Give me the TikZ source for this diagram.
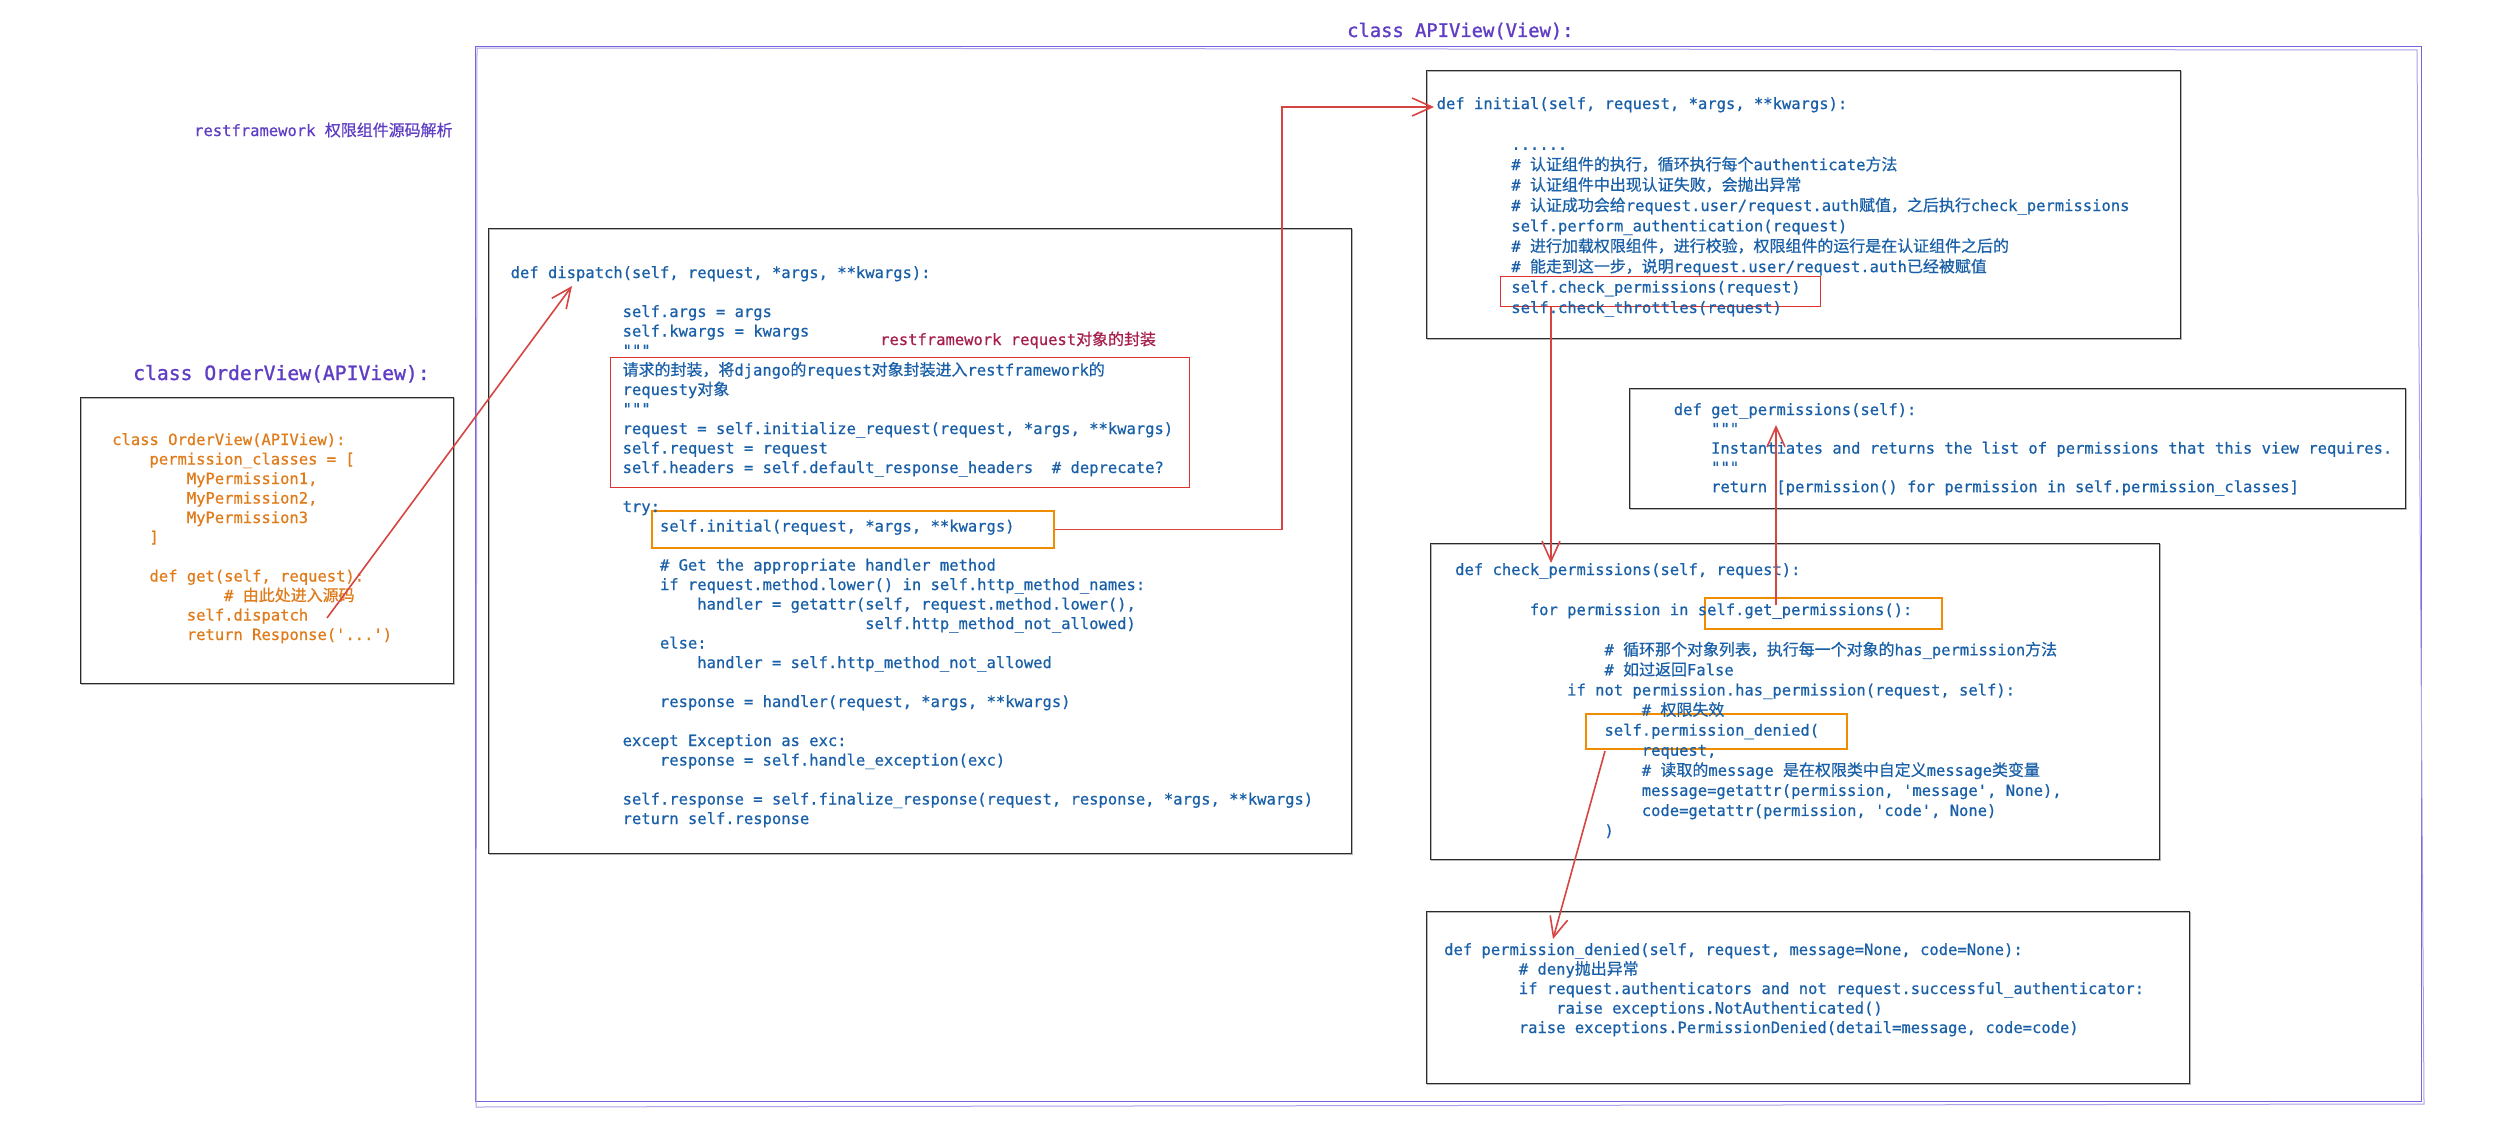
\documentclass[tikz,border=0pt]{standalone}
\usepackage{fontspec}
\newfontfamily\cmono{DejaVu Sans Mono}[FakeBold=0.6]
\newfontfamily\tmono{DejaVu Sans Mono}[FakeBold=1.2]
\newfontfamily\cjk{Noto Sans CJK SC}[Scale=1.03, FakeBold=0.6]
\usetikzlibrary{arrows.meta}
\definecolor{codeblue}{HTML}{1A60A8}
\definecolor{codeorange}{HTML}{E07B1A}
\definecolor{titlepurple}{HTML}{5F3DC4}
\definecolor{framepurple}{HTML}{7A62DC}
\definecolor{labelcrimson}{HTML}{A61E4D}
\definecolor{arrowred}{HTML}{D64541}
\definecolor{boxorange}{HTML}{F08C00}
\definecolor{boxred}{HTML}{E03131}
\definecolor{inkgray}{HTML}{2B2B2B}
\def\ccolor{codeblue}
\def\cbx{0}\def\cby{0}\def\cls{19.5}
\newcommand\codeline[4]{\node[code] (#1) at ({\cbx+#2*9.33},{\cby+#3*\cls}) {#4};}
\tikzset{
  code/.style={font=\cmono\fontsize{15.5}{19}\selectfont, text=\ccolor, inner sep=0pt, anchor=base west},
  sbox/.style={draw=inkgray, line width=1.3pt, anchor=north west, inner sep=0pt,
    postaction={draw=inkgray, draw opacity=0.35, line width=1pt, transform canvas={xshift=1.2pt, yshift=-1pt}}},
  obox/.style={draw=boxorange, line width=1.6pt, anchor=north west, inner sep=0pt},
  rbox/.style={draw=boxred, line width=1.4pt, anchor=north west, inner sep=0pt},
  arr/.style={draw=arrowred, line width=1.6pt, -{Straight Barb[length=20pt,width=18pt,line width=1.6pt]}},
  ttl/.style={inner sep=0pt, anchor=base west, text=titlepurple},
}
\begin{document}
\begin{tikzpicture}[x=1pt,y=-1pt]
\fill[white] (0,0) rectangle (2495,1132);
\useasboundingbox (0,0) rectangle (2495,1132);

% outer APIView frame
\node[draw=framepurple, line width=1.2pt, anchor=north west, inner sep=0pt,
  minimum width=1946pt, minimum height=1055pt] (outer) at (475,46) {};
\draw[framepurple!60, line width=1pt] (477,48) -- (2417,50) -- (2424,1104) -- (476,1107) -- cycle;

% titles
\node[ttl, font=\cmono\fontsize{15.5}{19}\selectfont] (maintitle) at (194,136) {restframework {\cjk 权限组件源码解析}};
\node[ttl, font=\tmono\fontsize{18.8}{22}\selectfont] (apititle) at (1347,37) {class APIView(View):};
\node[ttl, font=\tmono\fontsize{19.7}{23}\selectfont] (ordertitle) at (133,380) {class OrderView(APIView):};

% boxes
\node[sbox, minimum width=373pt, minimum height=286pt] (orderbox) at (80,397) {};
\node[sbox, minimum width=863pt, minimum height=625pt] (dispbox) at (488,228) {};
\node[sbox, minimum width=754pt, minimum height=268pt] (initbox) at (1426,70) {};
\node[sbox, minimum width=776pt, minimum height=120pt] (getpbox) at (1629,388) {};
\node[sbox, minimum width=729pt, minimum height=316pt] (chkbox) at (1430,543) {};
\node[sbox, minimum width=763pt, minimum height=172pt] (denybox) at (1426,911) {};

% highlight boxes
\node[rbox, minimum width=579pt, minimum height=130pt] (reqbox) at (610,357) {};
\node[obox, minimum width=402pt, minimum height=37pt] (initcall) at (651,510) {};
\node[rbox, minimum width=320pt, minimum height=30pt] (chkcall) at (1500,276) {};
\node[obox, minimum width=237pt, minimum height=31pt] (getpcall) at (1704,597) {};
\node[obox, minimum width=261pt, minimum height=35pt] (denycall) at (1585,713) {};

% OrderView code
\def\ccolor{codeorange}\def\cbx{112}\def\cby{445}\def\cls{19.5}
\codeline{o0}{0}{0}{class OrderView(APIView):}
\codeline{o1}{4}{1}{permission\_classes = [}
\codeline{o2}{8}{2}{MyPermission1,}
\codeline{o3}{8}{3}{MyPermission2,}
\codeline{o4}{8}{4}{MyPermission3}
\codeline{o5}{4}{5}{]}
\codeline{o7}{4}{7}{def get(self, request):}
\codeline{o8}{12}{8}{\# {\cjk 由此处进入源码}}
\codeline{o9}{8}{9}{self.dispatch}
\codeline{o10}{8}{10}{return Response('...')}

% dispatch code
\def\ccolor{codeblue}\def\cbx{510.5}\def\cby{278}\def\cls{19.5}
\codeline{d0}{0}{0}{def dispatch(self, request, *args, **kwargs):}
\codeline{d2}{12}{2}{self.args = args}
\codeline{d3}{12}{3}{self.kwargs = kwargs}
\codeline{d4}{12}{4}{"""}
\codeline{d5}{12}{5}{{\cjk 请求的封装，将}django{\cjk 的}request{\cjk 对象封装进入}restframework{\cjk 的}}
\codeline{d6}{12}{6}{requesty{\cjk 对象}}
\codeline{d7}{12}{7}{"""}
\codeline{d8}{12}{8}{request = self.initialize\_request(request, *args, **kwargs)}
\codeline{d9}{12}{9}{self.request = request}
\codeline{d10}{12}{10}{self.headers = self.default\_response\_headers\ \ \# deprecate?}
\codeline{d12}{12}{12}{try:}
\codeline{d13}{16}{13}{self.initial(request, *args, **kwargs)}
\codeline{d15}{16}{15}{\# Get the appropriate handler method}
\codeline{d16}{16}{16}{if request.method.lower() in self.http\_method\_names:}
\codeline{d17}{20}{17}{handler = getattr(self, request.method.lower(),}
\codeline{d18}{38}{18}{self.http\_method\_not\_allowed)}
\codeline{d19}{16}{19}{else:}
\codeline{d20}{20}{20}{handler = self.http\_method\_not\_allowed}
\codeline{d22}{16}{22}{response = handler(request, *args, **kwargs)}
\codeline{d24}{12}{24}{except Exception as exc:}
\codeline{d25}{16}{25}{response = self.handle\_exception(exc)}
\codeline{d27}{12}{27}{self.response = self.finalize\_response(request, response, *args, **kwargs)}
\codeline{d28}{12}{28}{return self.response}
\node[code, text=labelcrimson] (reqlabel) at (880,345) {restframework request{\cjk 对象的封装}};

% initial code
\def\cbx{1436.5}\def\cby{109}\def\cls{20.4}
\codeline{i0}{0}{0}{def initial(self, request, *args, **kwargs):}
\codeline{i2}{8}{2}{......}
\codeline{i3}{8}{3}{\# {\cjk 认证组件的执行，循环执行每个}authenticate{\cjk 方法}}
\codeline{i4}{8}{4}{\# {\cjk 认证组件中出现认证失败，会抛出异常}}
\codeline{i5}{8}{5}{\# {\cjk 认证成功会给}request.user/request.auth{\cjk 赋值，之后执行}check\_permissions}
\codeline{i6}{8}{6}{self.perform\_authentication(request)}
\codeline{i7}{8}{7}{\# {\cjk 进行加载权限组件，进行校验，权限组件的运行是在认证组件之后的}}
\codeline{i8}{8}{8}{\# {\cjk 能走到这一步，说明}request.user/request.auth{\cjk 已经被赋值}}
\codeline{i9}{8}{9}{self.check\_permissions(request)}
\codeline{i10}{8}{10}{self.check\_throttles(request)}

% get_permissions code
\def\cbx{1673.6}\def\cby{415}\def\cls{19.3}
\codeline{g0}{0}{0}{def get\_permissions(self):}
\codeline{g1}{4}{1}{"""}
\codeline{g2}{4}{2}{Instantiates and returns the list of permissions that this view requires.}
\codeline{g3}{4}{3}{"""}
\codeline{g4}{4}{4}{return [permission() for permission in self.permission\_classes]}

% check_permissions code
\def\cbx{1455}\def\cby{575}\def\cls{20.08}
\codeline{c0}{0}{0}{def check\_permissions(self, request):}
\codeline{c2}{8}{2}{for permission in self.get\_permissions():}
\codeline{c4}{16}{4}{\# {\cjk 循环那个对象列表，执行每一个对象的}has\_permission{\cjk 方法}}
\codeline{c5}{16}{5}{\# {\cjk 如过返回}False}
\codeline{c6}{12}{6}{if not permission.has\_permission(request, self):}
\codeline{c7}{20}{7}{\# {\cjk 权限失效}}
\codeline{c8}{16}{8}{self.permission\_denied(}
\codeline{c9}{20}{9}{request,}
\codeline{c10}{20}{10}{\# {\cjk 读取的}message {\cjk 是在权限类中自定义}message{\cjk 类变量}}
\codeline{c11}{20}{11}{message=getattr(permission, 'message', None),}
\codeline{c12}{20}{12}{code=getattr(permission, 'code', None)}
\codeline{c13}{16}{13}{)}

% permission_denied code
\def\cbx{1444}\def\cby{955}\def\cls{19.5}
\codeline{p0}{0}{0}{def permission\_denied(self, request, message=None, code=None):}
\codeline{p1}{8}{1}{\# deny{\cjk 抛出异常}}
\codeline{p2}{8}{2}{if request.authenticators and not request.successful\_authenticator:}
\codeline{p3}{12}{3}{raise exceptions.NotAuthenticated()}
\codeline{p4}{8}{4}{raise exceptions.PermissionDenied(detail=message, code=code)}

% connector end points
\coordinate (dispcall) at (327,618);
\coordinate (dispdef) at (572,286);
\coordinate (initturn) at (1282,107);
\coordinate (initdef) at (1434,107);
\coordinate (chkdef) at (1551,563);
\coordinate (getpstart) at (1776,605);
\coordinate (getpdef) at (1776,425);
\coordinate (denystart) at (1605,751);
\coordinate (denydef) at (1553,939);

% connectors
\draw[arr] (dispcall) -- (dispdef);
\draw[arr] (initcall.east) -| (initturn) -- (initdef);
\draw[arr] (chkcall.south -| chkdef) -- (chkdef);
\draw[arr] (getpstart) -- (getpdef);
\draw[arr] (denystart) -- (denydef);
\end{tikzpicture}
\end{document}
